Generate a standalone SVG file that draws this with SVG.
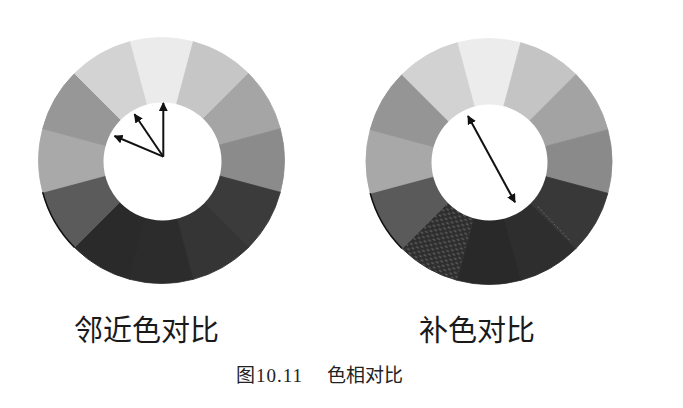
<svg xmlns="http://www.w3.org/2000/svg" xmlns:xlink="http://www.w3.org/1999/xlink" width="683" height="408" viewBox="0 0 683 408">
  <style>
    .title { font-family: "Noto Sans CJK SC", "Noto Sans", sans-serif; font-size: 29px; fill: #1a1a1a; }
    .cap { font-family: "Noto Sans CJK SC", sans-serif; font-size: 19px; fill: #222; }
    .num { font-family: "Liberation Serif", serif; letter-spacing: 1px; }
    .arrow { stroke: #111; stroke-width: 2; fill: none; }
    .edge { stroke: #111; stroke-width: 1.5; fill: none; }
  </style>
  <defs>
    <path id="sec" d="M0,0 L-31.83,-118.81 A123,123 0 0,1 31.83,-118.81 Z" stroke-width="0.8"/>
    <marker id="ah" viewBox="0 0 10 10" refX="9" refY="5" markerWidth="4.5" markerHeight="4.5" orient="auto-start-reverse" markerUnits="strokeWidth">
      <path d="M0,0 L10,5 L0,10 Z" fill="#111"/>
    </marker>
    <pattern id="dots" patternUnits="userSpaceOnUse" width="7" height="6">
      <rect width="7" height="6" fill="#2e2e2e"/>
      <rect x="0" y="0" width="3" height="1.5" fill="#5a5a5a"/>
      <rect x="3.5" y="3" width="3" height="1.5" fill="#5a5a5a"/>
    </pattern>
  </defs>
  <rect width="683" height="408" fill="#ffffff"/>

  <g id="wheel-left">
    <g transform="translate(161.5,160.5)">
      <use xlink:href="#sec" fill="#ebebeb" stroke="#ebebeb"/>
      <use xlink:href="#sec" fill="#c6c6c6" stroke="#c6c6c6" transform="rotate(30)"/>
      <use xlink:href="#sec" fill="#a5a5a5" stroke="#a5a5a5" transform="rotate(60)"/>
      <use xlink:href="#sec" fill="#8b8b8b" stroke="#8b8b8b" transform="rotate(90)"/>
      <use xlink:href="#sec" fill="#3b3b3b" stroke="#3b3b3b" transform="rotate(120)"/>
      <use xlink:href="#sec" fill="#353535" stroke="#353535" transform="rotate(150)"/>
      <use xlink:href="#sec" fill="#2c2c2c" stroke="#2c2c2c" transform="rotate(180)"/>
      <use xlink:href="#sec" fill="#2a2a2a" stroke="#2a2a2a" transform="rotate(210)"/>
      <use xlink:href="#sec" fill="#5b5b5b" stroke="#5b5b5b" transform="rotate(240)"/>
      <use xlink:href="#sec" fill="#a9a9a9" stroke="#a9a9a9" transform="rotate(270)"/>
      <use xlink:href="#sec" fill="#979797" stroke="#979797" transform="rotate(300)"/>
      <use xlink:href="#sec" fill="#d3d3d3" stroke="#d3d3d3" transform="rotate(330)"/>
      <path class="edge" d="M-118.8,31.8 A123,123 0 0,0 -87,87"/>
    </g>
    <circle cx="162.5" cy="161.5" r="59" fill="#ffffff"/>
  </g>

  <g id="wheel-right">
    <g transform="translate(489,161.5)">
      <use xlink:href="#sec" fill="#ececec" stroke="#ececec"/>
      <use xlink:href="#sec" fill="#c4c4c4" stroke="#c4c4c4" transform="rotate(30)"/>
      <use xlink:href="#sec" fill="#a3a3a3" stroke="#a3a3a3" transform="rotate(60)"/>
      <use xlink:href="#sec" fill="#8a8a8a" stroke="#8a8a8a" transform="rotate(90)"/>
      <use xlink:href="#sec" fill="#383838" stroke="#383838" transform="rotate(120)"/>
      <use xlink:href="#sec" fill="#2e2e2e" stroke="#2e2e2e" transform="rotate(150)"/>
      <use xlink:href="#sec" fill="#292929" stroke="#292929" transform="rotate(180)"/>
      <use xlink:href="#sec" fill="url(#dots)" stroke="#2e2e2e" transform="rotate(210)"/>
      <use xlink:href="#sec" fill="#5a5a5a" stroke="#5a5a5a" transform="rotate(240)"/>
      <use xlink:href="#sec" fill="#a8a8a8" stroke="#a8a8a8" transform="rotate(270)"/>
      <use xlink:href="#sec" fill="#959595" stroke="#959595" transform="rotate(300)"/>
      <use xlink:href="#sec" fill="#d2d2d2" stroke="#d2d2d2" transform="rotate(330)"/>
      <path class="edge" d="M-118.8,31.8 A123,123 0 0,0 -87,87"/>
    </g>
    <line x1="537.7" y1="206.7" x2="571" y2="241.7" stroke="#6a6a6a" stroke-width="1" stroke-dasharray="2 2"/>
    <circle cx="489.5" cy="162.5" r="58" fill="#ffffff"/>
  </g>

  <g id="connectors">
    <line class="arrow" x1="163.3" y1="156.7" x2="163.3" y2="103" marker-end="url(#ah)"/>
    <line class="arrow" x1="163.3" y1="156.7" x2="134.5" y2="114.3" marker-end="url(#ah)"/>
    <line class="arrow" x1="163.3" y1="156.7" x2="114.5" y2="136" marker-end="url(#ah)"/>
    <line class="arrow" x1="468" y1="116" x2="515" y2="202.3" marker-start="url(#ah)" marker-end="url(#ah)"/>
  </g>

  <g id="labels">
    <text class="title" x="74" y="341">邻近色对比</text>
    <text class="title" x="419" y="341">补色对比</text>
    <text class="cap" y="382"><tspan x="236">图</tspan><tspan class="num" x="256">10.11</tspan><tspan x="327">色相对比</tspan></text>
  </g>
</svg>
